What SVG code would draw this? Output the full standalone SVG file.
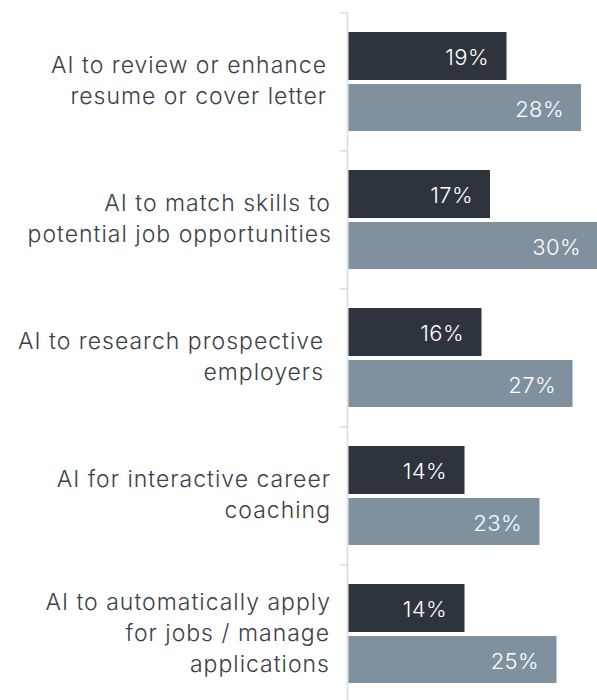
<svg xmlns="http://www.w3.org/2000/svg" width="597" height="700" viewBox="0 0 597 700">
<style>
.bg{fill:#ffffff}
.axis{stroke:#dcdcdc;stroke-width:1.5;fill:none}
.dark{fill:#2e343b}
.light{fill:#7f909e}
.cat{font-family:Inter,"Liberation Sans",Arial,sans-serif;font-weight:300;font-size:23px;letter-spacing:1px;fill:#3b4148;text-anchor:end}
.val{font-family:Inter,"Liberation Sans",Arial,sans-serif;font-weight:300;font-size:22px;letter-spacing:0.4px;fill:#ffffff;text-anchor:end}
</style>
<rect class="bg" x="0" y="0" width="597" height="700"/>
<g id="connectors">
<path class="axis" d="M347.5 12V700M340 12.75H348M340 150.75H348M340 288.75H348M340 426.75H348M340 564.75H348"/>
</g>
<g id="group1">
<text class="cat" x="327" y="72.5">AI to review or enhance</text>
<text class="cat" x="327" y="103.5">resume or cover letter</text>
<rect class="dark" x="348.5" y="32" width="158" height="48"/>
<rect class="light" x="348.5" y="84" width="232.5" height="47"/>
<text class="val" x="489" y="65">19%</text>
<text class="val" x="564" y="116.5">28%</text>
</g>
<g id="group2">
<text class="cat" x="331" y="210.5">AI to match skills to</text>
<text class="cat" x="332" y="241.5">potential job opportunities</text>
<rect class="dark" x="348.5" y="170" width="141.5" height="48"/>
<rect class="light" x="348.5" y="222" width="249" height="47"/>
<text class="val" x="473" y="203">17%</text>
<text class="val" x="581" y="254.5">30%</text>
</g>
<g id="group3">
<text class="cat" x="324" y="348.5">AI to research prospective</text>
<text class="cat" x="324" y="379.5">employers</text>
<rect class="dark" x="348.5" y="308" width="133" height="48"/>
<rect class="light" x="348.5" y="360" width="224" height="47"/>
<text class="val" x="464" y="341">16%</text>
<text class="val" x="556" y="392.5">27%</text>
</g>
<g id="group4">
<text class="cat" x="331" y="486.5">AI for interactive career</text>
<text class="cat" x="331" y="517.5">coaching</text>
<rect class="dark" x="348.5" y="446" width="116" height="48"/>
<rect class="light" x="348.5" y="498" width="191" height="47"/>
<text class="val" x="447" y="479">14%</text>
<text class="val" x="522" y="530.5">23%</text>
</g>
<g id="group5">
<text class="cat" x="331" y="610">AI to automatically apply</text>
<text class="cat" x="330" y="641">for jobs / manage</text>
<text class="cat" x="330" y="672">applications</text>
<rect class="dark" x="348.5" y="584" width="116" height="48"/>
<rect class="light" x="348.5" y="636" width="208" height="47"/>
<text class="val" x="447" y="617">14%</text>
<text class="val" x="539" y="668.5">25%</text>
</g>
</svg>
